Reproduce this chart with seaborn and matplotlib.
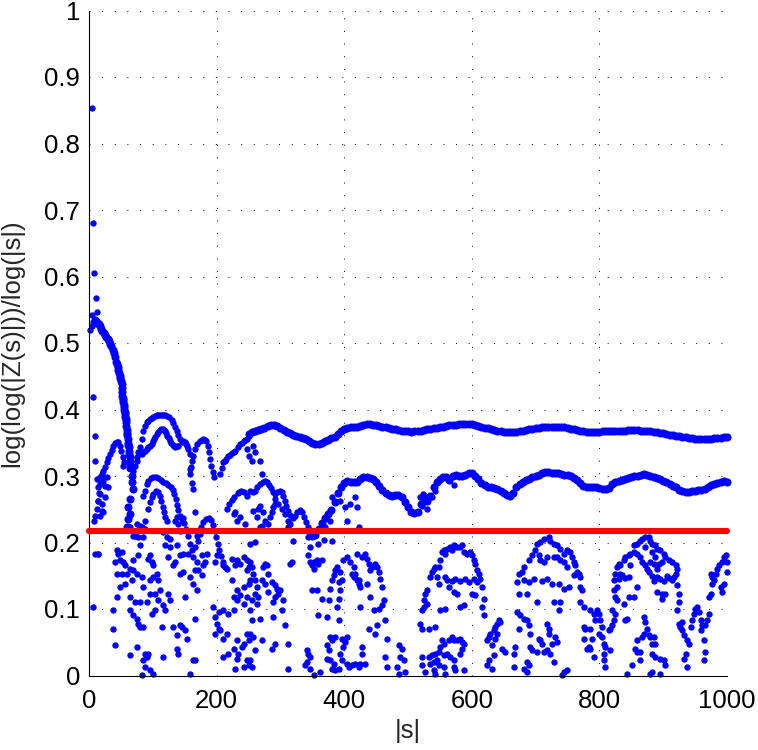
import numpy as np
import pandas as pd
import matplotlib
matplotlib.use("Agg")
import matplotlib.pyplot as plt
import seaborn as sns

# ---------------------------------------------------------------------------
# Data
# ---------------------------------------------------------------------------
# Upper branch, sampled every 5 units of |s| starting at |s| = 250
upper_start, upper_step = 250, 5
upper_y = [
    .363, .366, .3675, .3685, .370, .372, .375, .377, .377, .375,
    .372, .369, .366, .364, .362, .3605, .359, .357, .355, .353,
    .350, .348, .348, .3495, .352, .354, .3565, .359, .363, .367,
    .3705, .372, .373, .373, .374, .375, .377, .378, .378, .377,
    .376, .375, .374, .373, .372, .371, .370, .3685, .368, .3675,
    .367, .3665, .367, .368, .368, .369, .370, .371, .3715, .372,
    .373, .374, .375, .376, .3765, .377, .3775, .378, .378, .378,
    .3775, .3765, .375, .374, .3725, .3715, .370, .369, .368, .367,
    .366, .3655, .3655, .366, .3665, .367, .368, .369, .370, .371,
    .372, .3725, .373, .374, .374, .374, .3735, .3735, .373, .373,
    .372, .371, .370, .369, .368, .367, .3665, .366, .366, .366,
    .3665, .367, .367, .3675, .3675, .368, .368, .368, .368, .3685,
    .3685, .369, .369, .368, .368, .3675, .367, .3665, .366, .365,
    .3645, .363, .3615, .361, .360, .3595, .359, .358, .357, .3565,
    .356, .356, .356, .356, .356, .356, .3565, .357, .3575, .358,
    .3585,
]

# Middle branch, sampled every 5 units of |s| starting at |s| = 345
middle_start, middle_step = 345, 5
middle_y = [
    .218, .210, .212, .2205, .229, .2365, .2435, .249, .2605, .275,
    .284, .2895, .292, .2915, .2915, .2905, .295, .298, .298, .297,
    .295, .291, .285, .279, .2745, .271, .2705, .272, .271, .268,
    .261, .253, .2465, .244, .246, .258, .262, .262, .270, .283,
    .2905, .2955, .299, .298, .294, .2995, .302, .3005, .3005, .302,
    .3045, .3045, .300, .296, .290, .286, .284, .283, .282, .2805,
    .278, .2745, .2715, .2705, .275, .283, .2885, .291, .2935, .2955,
    .298, .2995, .302, .304, .3055, .3065, .305, .304, .304, .303,
    .302, .301, .2995, .297, .2935, .289, .2855, .2835, .2835, .283,
    .283, .2825, .281, .2805, .282, .288, .291, .2925, .2945, .296,
    .2975, .299, .2995, .3005, .3015, .303, .302, .3005, .299, .2975,
    .2955, .293, .2915, .2885, .2855, .2835, .2795, .277, .2765, .2765,
    .2775, .278, .279, .2795, .281, .283, .2865, .288, .290, .291,
    .292, .2915,
]

# Early decay of the leading branch for small |s|
decay = [
    (9, .535), (11, .533), (13, .530), (15, .528), (17, .525), (19, .521),
    (21, .518), (23, .515), (25, .512), (27, .509), (29, .506), (31, .503),
    (33, .499), (35, .495), (37, .490), (39, .485), (41, .479), (43, .472),
    (44, .468), (45, .464), (46, .459), (47, .455), (48, .451), (49, .447),
    (50, .443), (51, .439), (51.5, .433), (52, .427), (52.5, .421), (53, .418),
    (53.5, .414), (54, .411), (54.5, .407), (55, .404), (55.5, .400),
    (56, .396), (56.5, .393), (57, .389), (57.5, .385), (58, .381),
    (58.5, .375), (59, .369), (59.5, .365), (60, .361), (60.5, .356),
    (61, .350), (61.5, .346), (62, .343), (62.5, .338), (63, .333),
    (63.5, .328), (64, .322), (64.5, .317), (65, .312), (68, .3005),
    (67, .2905), (69.6, .2805), (64.4, .2655), (61.7, .253), (64.4, .243),
    (61.7, .2355), (59.1, .223),
]

# Isolated values near |s| = 0
edge_points = [
    (4, .853), (6.8, .680), (8.4, .606), (10.5, .568), (13, .547), (4, .542),
    (6.8, .532), (1.6, .519), (4, .525), (6.8, .419), (9.4, .3605),
    (9.4, .323), (12, .2955), (14.7, .283), (17.3, .273), (19.9, .258),
    (17.3, .2405), (22.5, .293), (25.1, .2855), (14.7, .263), (19.9, .248),
    (22.5, .2455), (25.1, .268), (30.4, .283), (27.7, .298), (9.4, .183),
    (6.8, .103), (14.7, .183), (8, .232), (10, .24), (12, .25), (14, .262),
    (16, .275), (18, .288), (20, .298),
]

# Arcs of the upper group for |s| < 270
upper_arcs = [
    (17.3, .298), (19.9, .303), (22.5, .308), (25.1, .314), (27.7, .3205),
    (30.4, .327), (33, .333), (35.6, .339), (38.2, .3445), (40.8, .349),
    (43.4, .3515), (46, .3505), (48.7, .3455), (50.8, .338), (52.8, .329),
    (55, .3205), (53.9, .3155), (72.2, .3155), (74.8, .323), (69.6, .308),
    (74.8, .3285), (77.4, .3355), (80, .343), (82.7, .3555), (85.3, .368),
    (87.9, .3755), (90.5, .3805), (93, .383), (95.7, .3855), (98.3, .3875),
    (101, .389), (103.6, .390), (106.2, .391), (108.8, .3915), (111.4, .392),
    (114, .392), (116.7, .3915), (119.3, .391), (121.9, .3905), (126.1, .388),
    (129.7, .384), (132.3, .379), (135, .374), (137.6, .368), (140.2, .362),
    (142.8, .3555), (145.4, .3505),
    (82.7, .333), (85.3, .3355), (87.9, .338), (90.5, .3405), (93.1, .343),
    (95.7, .3455), (98.3, .348), (100, .352), (102, .3555), (104, .359),
    (106.2, .363), (108.8, .366), (111.4, .369), (113.5, .370), (115.6, .3705),
    (117.5, .369), (119.3, .367), (121, .364), (123, .3605), (125, .357),
    (127.1, .353), (129.2, .350), (131.3, .347), (133, .345), (135, .344),
    (137.6, .3445), (140.2, .3455), (148, .353), (150, .351), (152.2, .348),
    (153.3, .3455), (155.9, .3405), (158.5, .333), (161.1, .323), (160, .313),
    (158.5, .303), (158.5, .3105), (161, .290), (163, .280),
    (163.7, .3305), (166.3, .3405), (170, .348), (174.2, .353), (176.8, .3545),
    (179.4, .3555), (181.5, .3545), (183.6, .353), (186.2, .3455),
    (188.3, .3355), (189.9, .3255), (191.4, .3155), (194, .3055), (196.1, .298),
    (205.6, .303), (208.2, .312), (210.8, .3205), (213, .323), (215, .3255),
    (218.6, .3305), (221, .332), (223.9, .334), (226.5, .336), (229.1, .338),
    (232.8, .343), (237, .348), (239.6, .350), (242.2, .352), (244.8, .354),
    (247.4, .3555), (250, .3605), (247.4, .341), (250, .3305), (257.7, .3455),
    (260.3, .3355), (268.2, .323), (255.1, .323), (270.8, .303),
]

# Arcs of the middle group for |s| < 345
middle_arcs = [
    (85.3, .2705), (87.9, .278), (90.5, .288), (93.1, .293), (96.8, .2965),
    (101, .298), (105.2, .298), (108.8, .297), (112.5, .2945), (116.7, .2915),
    (120.8, .289), (124.5, .287), (128.2, .284), (131.3, .279), (133.9, .273),
    (136.5, .2655), (138.6, .257), (140.2, .249),
    (93.1, .2505), (95.7, .2605), (98.3, .268), (101, .273), (105.2, .277),
    (108.8, .2755), (111.4, .2705), (113.5, .263), (115.6, .254),
    (117.7, .2455), (119.8, .238), (121.9, .232),
    (135, .233), (138.6, .239), (142.8, .2405), (147, .237), (149.6, .229),
    (152.2, .2205),
    (171.6, .213), (175.2, .223), (179.4, .2305), (183.6, .2355), (187.8, .237),
    (192, .234), (195.1, .227), (197.2, .218), (199.3, .208), (201.9, .198),
    (204.5, .188), (207.1, .179), (209.7, .1705), (212.4, .163),
    (216, .2505), (219.7, .258), (223.9, .264), (228, .269), (232.8, .274),
    (235.5, .276), (238, .278), (243.2, .2755), (247.4, .2705), (229.1, .2455),
    (237, .238), (231.7, .233), (226.5, .243), (244.8, .228),
    (252.5, .278), (256.7, .2755), (260.3, .278), (264, .283), (268.2, .288),
    (272.4, .2915), (276, .292), (279.7, .2905), (282.8, .287), (285.5, .282),
    (288.1, .2755), (291.7, .273), (295.4, .2755), (299.6, .278),
    (302.2, .2755), (304.8, .2705), (306.9, .263), (309, .2555),
    (311.6, .248), (315.3, .2415), (319.4, .237), (323.1, .2405),
    (326.8, .2455), (330.9, .249), (334.6, .2455), (337.2, .238),
    (339.8, .2305), (342.5, .223),
    (291.7, .2655), (297, .258), (302.2, .2505), (307.4, .243), (312.6, .233),
    (315.3, .228),
    (268.2, .223), (270.8, .2255), (276, .233), (281.3, .228), (283.9, .238),
    (286.5, .2455), (289.1, .253), (291.7, .258), (263, .238), (257.7, .248),
    (265.6, .2505), (268.2, .2555), (273.4, .2455), (312.6, .223),
    (422.5, .223), (378, .233), (370.2, .223), (380.6, .268), (393.7, .263),
    (401.6, .254), (409.4, .258), (417.2, .268), (419.9, .254), (404.2, .233),
    (524.4, .263), (521.8, .2555), (529.7, .2505), (542.7, .278),
    (571.5, .286), (537.5, .268), (519.2, .268), (523.4, .273), (527, .2705),
    (64.4, .223), (74.8, .228), (80, .2255), (87.9, .233), (69.6, .2105),
    (121.9, .208), (119.3, .1955), (127.1, .2055), (116.7, .2155),
    (166.3, .2455),
]

# Lower cloud of values, |s| < 252
low_a = [
    (14.7, .183), (43.4, .188), (46, .183), (51.3, .1855), (40.8, .1705),
    (48.7, .173), (53.9, .1705), (56.5, .1655), (43.4, .153), (51.3, .153),
    (59.1, .153), (64.4, .1605), (69.6, .173), (69.6, .158), (74.8, .153),
    (77.4, .1805), (80, .1955), (77.4, .208), (72.2, .2105), (82.7, .223),
    (87.9, .2205), (85.3, .208), (67, .143), (56.5, .138), (48.7, .133),
    (43.4, .118), (64.4, .118), (72.2, .1105), (80, .1105), (90.5, .1105),
    (85.3, .133), (95.7, .143), (101, .148), (98.3, .1705), (93.1, .1755),
    (95.7, .1805), (101, .1655), (106.2, .153), (108.8, .143), (111.4, .128),
    (103.6, .123), (95.7, .123), (124.5, .123), (127.1, .113), (119.3, .098),
    (116.7, .1055), (108.8, .113), (98.3, .093), (103.6, .098), (82.7, .148),
    (64.4, .098), (69.6, .0905), (74.8, .0855), (80, .073), (77.4, .078),
    (85.3, .073), (38.2, .098), (38.2, .0705), (40.8, .0455), (64.4, .0305),
    (74.8, .043), (87.9, .033), (90.5, .028), (93.1, .033), (95.7, .008),
    (85.3, .023), (101, .003), (87.9, .013), (82.7, .0005), (116.7, .028),
    (114, .073), (132.3, .073), (137.6, .0605), (142.8, .0755), (145.4, .073),
    (150.6, .068), (153.3, .0555), (137.6, .0405), (140.2, .033),
    (158.5, .003), (163.7, .023), (166.3, .023), (166.3, .0855), (150.6, .118),
    (169, .128), (163.7, .138), (158.5, .148), (166.3, .158), (169, .1705),
    (163.7, .178), (155.9, .183), (148, .183), (142.8, .1805), (137.6, .1955),
    (127.1, .193), (124.5, .178), (132.3, .1655), (135, .1705), (142.8, .153),
    (148, .1555), (142.8, .218), (140.2, .228), (145.4, .2355), (148, .2305),
    (153.3, .218), (155.9, .2105), (158.5, .198), (161.1, .188), (166.3, .193),
    (171.6, .203), (169, .2105), (174.2, .213), (184.6, .183), (176.8, .1805),
    (182, .1705), (179.4, .1655), (171.6, .158), (176.8, .1505),
    (197.7, .1705), (200.3, .1805), (210.8, .1655), (216, .1605),
    (223.9, .1755), (231.7, .173), (229.1, .1655), (236.9, .168),
    (242.2, .178), (247.4, .173), (250, .163), (247.4, .158), (250, .138),
    (242.2, .133), (231.7, .128), (223.9, .143), (226.5, .118), (237, .1205),
    (247.4, .118), (231.7, .113), (242.2, .108), (226.5, .098), (218.6, .093),
    (210.8, .098), (203, .0955), (197.7, .088), (195.1, .103), (200.3, .078),
    (205.6, .068), (210.8, .0555), (216, .063), (218.6, .033), (226.5, .0405),
    (231.7, .053), (242.2, .048), (247.4, .063), (250, .053), (231.7, .0255),
    (247.4, .023), (210.8, .028), (197.7, .063), (203, .0705), (239.6, .043),
    (234.3, .033), (250, .0155), (229.1, .0105), (242.2, .013),
]

# Lower cloud, 252 <= |s| < 519
low_b = [
    (252.5, .1705), (255.1, .163), (257.7, .153), (260.3, .143), (263, .133),
    (260.3, .123), (255.1, .113), (265.6, .118), (263, .108), (252.5, .098),
    (255.1, .083), (252.5, .063), (268.2, .0855), (270.8, .053),
    (260.3, .038), (252.5, .023), (255.1, .013), (273.4, .163), (276, .168),
    (278.7, .1655), (281.3, .153), (270.8, .143), (276, .138), (281.3, .1255),
    (286.5, .1405), (291.7, .1355), (294.3, .1305), (299.6, .128), (297, .123),
    (291.7, .118), (289.1, .1105), (304.8, .113), (302.2, .098),
    (307.4, .0755), (289.1, .088), (291.7, .048), (286.5, .0405),
    (312.6, .048), (312.6, .0105), (317.9, .1705), (315.3, .168),
    (252.5, .143), (257.7, .058), (252.5, .198), (260.3, .2005),
    (320.5, .203), (344, .208), (346.6, .193), (344, .1805), (346.6, .1705),
    (349.3, .1655), (351.9, .1705), (357.1, .173), (364.9, .173),
    (359.7, .168), (351.9, .1605), (349.3, .128), (357.1, .128),
    (364.9, .1155), (375.4, .113), (359.7, .0905), (372.8, .088),
    (378, .1305), (380.6, .143), (383.3, .1505), (385.9, .158), (388.5, .163),
    (393.7, .1555), (396.3, .143), (391.1, .1405), (393.7, .128),
    (391.1, .1155), (388.5, .103), (391.1, .083), (398.9, .173),
    (404.2, .178), (409.4, .1705), (414.6, .163), (417.2, .153), (419.9, .143),
    (422.5, .138), (414.6, .148), (412, .153), (419.9, .183), (427.7, .178),
    (432.9, .183), (435.6, .1755), (438.2, .168), (440.8, .158),
    (443.4, .163), (448.6, .168), (451.2, .163), (453.9, .1555),
    (456.5, .1455), (459.1, .133), (461.7, .113), (459.1, .1055),
    (453.9, .1005), (446, .098), (440.8, .118), (435.6, .138), (425.1, .133),
    (422.5, .143), (425.1, .103), (464.3, .083), (451.2, .0755),
    (448.6, .063), (438.2, .0705), (466.9, .0555), (378, .058),
    (380.6, .053), (385.9, .058), (372.8, .0455), (375.4, .038),
    (396.3, .0555), (401.6, .0505), (404.2, .058), (398.9, .043),
    (393.7, .033), (396.3, .023), (404.2, .018), (406.8, .013), (412, .0155),
    (417.2, .018), (422.5, .013), (427.7, .043), (427.7, .033), (425.1, .018),
    (432.9, .018), (378, .023), (372.8, .0255), (383.3, .018), (380.6, .0105),
    (385.9, .008), (391.1, .0105), (341.4, .038), (344, .033), (346.6, .028),
    (341.4, .0205), (338.8, .0155), (346.6, .0105), (351.9, .0005),
    (362.3, .0055), (464.3, .028), (466.9, .013), (485.2, .0455),
    (490.5, .0405), (487.9, .028), (482.6, .013), (493.1, .023),
    (485.2, .003), (495.7, .0055), (359.7, .198), (368.6, .204),
    (380.6, .203),
]

# Lower cloud, 519 <= |s| < 786
low_c = [
    (527, .123), (529.7, .128), (524.4, .113), (521.8, .098), (524.4, .103),
    (529.7, .108), (534.9, .148), (537.5, .1555), (540.1, .1605),
    (542.7, .163), (545.4, .148), (548, .163), (548, .138), (550.6, .173),
    (553.2, .1855), (555.8, .188), (558.4, .183), (561, .1905), (566.3, .193),
    (568.9, .188), (571.5, .1955), (576.7, .193), (582, .193), (584.6, .1955),
    (587.2, .1855), (592.4, .183), (597.7, .1855), (600.3, .1805),
    (602.9, .173), (605.5, .168), (608.1, .158), (610.7, .153),
    (613.3, .1455), (608.1, .1405), (602.9, .1445), (595, .141),
    (589.8, .145), (582, .142), (574.1, .1445), (568.9, .142), (561, .144),
    (558.4, .1475), (563.7, .133), (571.5, .1255), (576.7, .123),
    (587.2, .1055), (582, .103), (600.3, .123), (605.5, .1205), (616, .133),
    (618.6, .1155), (616, .103), (618.6, .0905), (623.8, .053), (626.4, .058),
    (629, .063), (634.3, .068), (636.9, .073), (639.5, .078), (642.1, .083),
    (644.7, .0805), (639.5, .063), (636.9, .0555), (631.6, .0455),
    (626.4, .023), (623.8, .0155), (631.6, .0105), (634.3, .0305),
    (647.3, .0405), (652.6, .0355), (550.6, .098), (558.4, .1005),
    (542.7, .073), (532.3, .0705), (521.8, .0705), (519.2, .078),
    (553.2, .053), (550.6, .043), (555.8, .048), (563.7, .053), (568.9, .058),
    (571.5, .053), (576.7, .053), (582, .0555), (584.6, .0505), (587.2, .048),
    (584.6, .0405), (582, .033), (571.5, .023), (566.3, .028), (561, .033),
    (555.8, .0305), (548, .0355), (542.7, .033), (537.5, .0305),
    (532.3, .028), (534.9, .018), (540.1, .0205), (545.4, .023),
    (521.8, .028), (521.8, .0155), (540.1, .008), (548, .0155),
    (555.8, .013), (558.4, .003), (571.5, .013), (574.1, .008), (587.2, .008),
    (542.7, .003), (527, .0055),
    (670.9, .1405), (673.5, .153), (678.7, .1555), (681.3, .163),
    (689.2, .173), (694.4, .1805), (699.6, .188), (702.3, .198),
    (707.5, .2005), (712.7, .2055), (720.6, .208), (723.2, .203),
    (728.4, .198), (733.6, .1955), (738.9, .1905), (744.1, .183),
    (749.3, .188), (754.6, .1855), (757.2, .178), (759.8, .1705),
    (762.4, .1655), (767.6, .153), (770.2, .148), (765, .1555), (749.3, .163),
    (744.1, .1705), (738.9, .173), (733.6, .178), (728.4, .178),
    (717.9, .178), (712.7, .1705), (707.5, .173), (704.9, .1805),
    (697, .1445), (689.2, .141), (681.3, .1435), (673.5, .123), (686.6, .123),
    (702.3, .1105), (710.1, .1425), (717.9, .1445), (725.8, .138),
    (736.2, .138), (744.1, .1305), (751.9, .133), (759.8, .1505),
    (770.2, .133), (772.9, .128), (770.2, .1105), (775.5, .103),
    (728.4, .1105), (736.2, .098), (738.9, .1105), (681.3, .0855),
    (670.9, .0955), (676.1, .0905), (673.5, .0705), (686.6, .083),
    (689.2, .0755), (691.8, .063), (691.8, .043), (694.4, .038),
    (704.9, .0555), (707.5, .053), (710.1, .048), (717.9, .078),
    (720.6, .0705), (720.6, .063), (712.7, .0355), (717.9, .038),
    (725.8, .048), (731, .058), (733.6, .0505), (723.2, .033),
    (728.4, .0205), (702.3, .0355), (668.3, .043), (665.6, .033),
    (665.6, .013), (689.2, .0155), (686.6, .0205), (681.3, .0105),
    (686.6, .0055), (744.1, .0055), (749.3, .008), (741.5, .0005),
    (775.5, .073), (778.1, .0705), (775.5, .0555), (780.7, .0405),
    (783.3, .043),
]

# Lower cloud, |s| >= 786
low_d = [
    (785.9, .098), (791.1, .093), (793.7, .083), (796.4, .098), (799, .093),
    (801.6, .083), (785.9, .0705), (788.5, .0555), (785.9, .0405),
    (791.1, .028), (799, .063), (804.2, .073), (804.2, .058), (806.8, .048),
    (809.4, .043), (806.8, .033), (806.8, .023), (809.4, .013), (814.7, .068),
    (817.3, .0705), (819.9, .0755), (822.5, .083), (825.1, .093),
    (819.9, .098), (817.3, .038), (822.5, .143), (825.1, .153), (827.7, .163),
    (830.4, .168), (833, .1655), (838.2, .173), (840.8, .178), (846, .1805),
    (848.7, .183), (853.9, .1955), (859.1, .198), (864.4, .203),
    (867, .2055), (872.2, .208), (877.4, .208), (880, .203), (882.7, .198),
    (887.9, .1955), (890.5, .1905), (895.7, .188), (901, .183),
    (903.6, .178), (908.8, .173), (914, .1705), (919.3, .1655),
    (921.9, .1605), (919.3, .153), (916.7, .148), (914, .143),
    (921.9, .1355), (924.5, .123), (924.5, .1105), (921.9, .098),
    (908.8, .1465), (906.2, .150), (901, .1415), (895.7, .1455),
    (890.5, .148), (885.3, .1425), (882.7, .150), (877.4, .1555),
    (874.8, .1605), (872.2, .1655), (867, .1705), (864.4, .178),
    (859.1, .183), (853.9, .1855), (848.7, .1655), (846, .148),
    (840.8, .1465), (835.6, .1505), (833, .153), (830.4, .1455),
    (827.7, .133), (822.5, .128), (825.1, .118), (827.7, .113),
    (838.2, .108), (846, .118), (853.9, .118), (859.1, .133),
    (890.5, .1255), (898.3, .123), (898.3, .1155), (903.6, .123),
    (890.5, .1605), (893.1, .168), (898.3, .1705), (880, .1705),
    (885.3, .168), (887.9, .178), (882.7, .1855), (872.2, .193),
    (843.4, .0855), (840.8, .083), (869.6, .088), (872.2, .0805),
    (874.8, .0705), (877.4, .0605), (869.6, .063), (867, .058),
    (859.1, .053), (856.5, .0405), (859.1, .0355), (864.4, .0355),
    (880, .058), (885.3, .058), (887.9, .048), (882.7, .048), (882.7, .033),
    (887.9, .028), (895.7, .0255), (901, .023), (903.6, .0155),
    (864.4, .023), (851.3, .0155), (843.4, .003), (880, .003),
    (882.7, .0055), (895.7, .003), (929.7, .0805), (927.1, .073),
    (924.5, .078), (929.7, .068), (932.3, .0605), (937.6, .053),
    (940.2, .048), (935, .033), (932.3, .0255), (937.6, .013),
    (942.8, .073), (945.4, .083), (948, .093), (950.6, .1005), (953.3, .103),
    (955.9, .0955), (958.5, .083), (961.1, .0755), (958.5, .068),
    (963.7, .053), (966.3, .0355), (963.7, .023), (971.6, .093), (969, .083),
    (966.3, .0755), (971.6, .118), (974.2, .123), (976.8, .138),
    (979.4, .143), (982, .153), (984.6, .1605), (987.3, .1655),
    (992.5, .1705), (995.1, .178), (997.7, .1805), (1000, .1705),
    (1000, .1555), (995.1, .138), (992.5, .1255), (989.9, .133),
    (976.8, .148), (974.2, .153),
]

# Reference level drawn in red
red_level = 0.2175
red_span = [0, 1000]

x_ticks = [0, 200, 400, 600, 800, 1000]
y_ticks = [0, 0.1, 0.2, 0.3, 0.4, 0.5, 0.6, 0.7, 0.8, 0.9, 1.0]
y_tick_labels = ["0", "0.1", "0.2", "0.3", "0.4", "0.5", "0.6", "0.7",
                 "0.8", "0.9", "1"]

# ---------------------------------------------------------------------------
# Tables for seaborn
# ---------------------------------------------------------------------------
band_df = pd.concat([
    pd.DataFrame({"s": upper_start + upper_step * np.arange(len(upper_y)),
                  "v": upper_y}),
    pd.DataFrame({"s": middle_start + middle_step * np.arange(len(middle_y)),
                  "v": middle_y}),
    pd.DataFrame(decay, columns=["s", "v"]),
], ignore_index=True)

dots_df = pd.DataFrame(
    edge_points + upper_arcs + middle_arcs + low_a + low_b + low_c + low_d,
    columns=["s", "v"])

red_df = pd.DataFrame({"s": red_span, "v": [red_level] * len(red_span)})

# ---------------------------------------------------------------------------
# Figure
# ---------------------------------------------------------------------------
sns.set_style("white")
plt.rcParams["font.family"] = ["Liberation Sans", "DejaVu Sans"]

W, H = 758, 750
fig = plt.figure(figsize=(W / 100, H / 100), dpi=100)
ax = fig.add_axes([89 / W, (H - 675.5) / H, (727 - 89) / W, (675.5 - 10.5) / H])

blue = (0, 0, 1)
sns.scatterplot(data=dots_df, x="s", y="v", color=blue, s=21, linewidth=0,
                ax=ax, zorder=2, clip_on=False)
sns.scatterplot(data=band_df, x="s", y="v", color=blue, s=34, linewidth=0,
                ax=ax, zorder=2, clip_on=False)
sns.lineplot(data=red_df, x="s", y="v", color=(1, 0, 0), linewidth=4.4,
             estimator=None, ax=ax, zorder=3, solid_capstyle="round",
             clip_on=False)

ax.set_xlim(0, 1000)
ax.set_ylim(0, 1)
ax.set_xticks(x_ticks)
ax.set_xticklabels([str(t) for t in x_ticks])
ax.set_yticks(y_ticks)
ax.set_yticklabels(y_tick_labels)

ax.grid(True, color="black", linestyle=(0, (1, 12)), linewidth=0.7)
ax.set_axisbelow(True)

for side in ["top", "right"]:
    ax.spines[side].set_visible(False)
for side in ["left", "bottom"]:
    ax.spines[side].set_color("black")
    ax.spines[side].set_linewidth(0.8)

ax.tick_params(axis="both", direction="in", length=6, width=0.8,
               colors="black", labelsize=18.5)
ax.tick_params(axis="x", pad=9.5)
ax.tick_params(axis="y", pad=6.5)

ax.set_xlabel("|s|", fontsize=18.5)
ax.set_ylabel("log(log(|Z(s)|))/log(|s|)", fontsize=18.5)
ax.xaxis.set_label_coords(0.5, -0.066)
ax.yaxis.set_label_coords(-0.102, 0.5)

fig.savefig("out.png", dpi=100)
